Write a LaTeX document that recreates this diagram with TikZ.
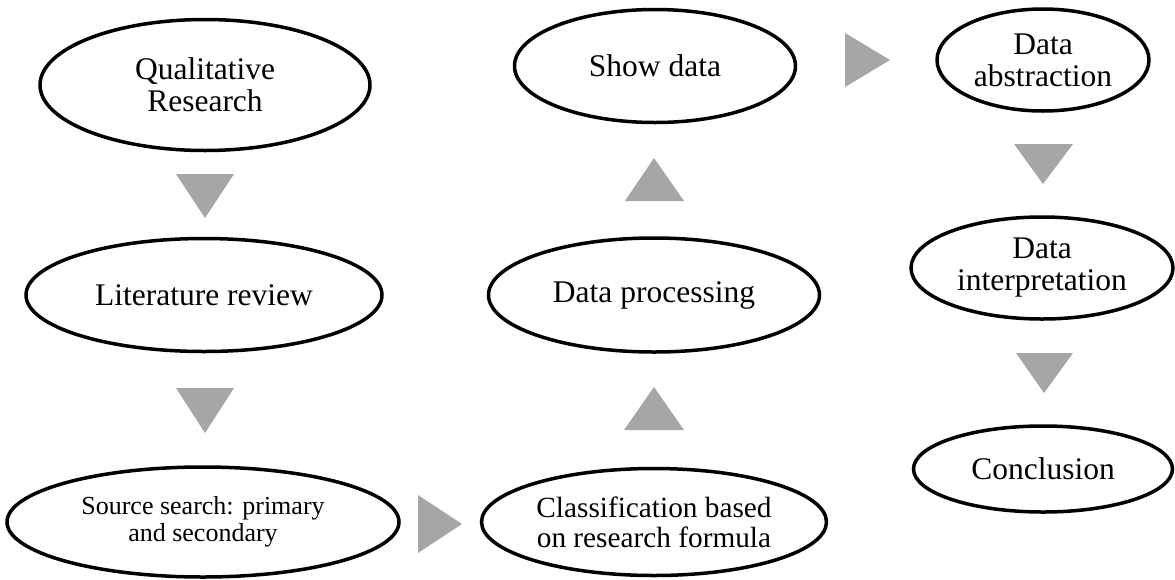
\documentclass[tikz,border=0pt]{standalone}
\usepackage{fontspec}
\setmainfont{Liberation Serif}
\usetikzlibrary{shapes.geometric}
\definecolor{arrowgrey}{RGB}{166,166,166}
\tikzset{
  oval/.style={draw=black, line width=3.5pt, ellipse, inner sep=0pt, align=center,
    font=\fontsize{31.5}{32}\selectfont},
  tri/.style={fill=arrowgrey, draw=none},
}
\begin{document}
\begin{tikzpicture}[x=1pt,y=-1pt]
\useasboundingbox (0,0) rectangle (1175,579);
% column 1
\node[oval, minimum width=330pt, minimum height=131pt] (qr) at (205,85) {Qualitative\\Research};
\node[oval, minimum width=356pt, minimum height=113pt] (lr) at (204,295) {Literature review};
\node[oval, minimum width=392pt, minimum height=110pt, font=\fontsize{26}{27}\selectfont] (ss) at (203,522) {Source search: primary\\and secondary};
% column 2
\node[oval, minimum width=345pt, minimum height=107pt, font=\fontsize{29.3}{30}\selectfont] (cl) at (654,522) {Classification based\\on research formula};
\node[oval, minimum width=331pt, minimum height=114pt] (dp) at (654,295) {Data processing};
\node[oval, minimum width=281pt, minimum height=113pt] (sd) at (655,66) {Show data};
% column 3
\node[oval, minimum width=212pt, minimum height=102pt] (da) at (1043,60) {Data\\abstraction};
\node[oval, minimum width=262pt, minimum height=102pt] (di) at (1042,268) {Data\\interpretation};
\node[oval, minimum width=259pt, minimum height=86pt] (co) at (1043,469) {Conclusion};
% arrows (grey triangles)
\fill[tri] (176,174) -- (234,174) -- (205,218) -- cycle;
\fill[tri] (176,388) -- (234,388) -- (205,433) -- cycle;
\fill[tri] (418,495) -- (418,553) -- (462,524) -- cycle;
\fill[tri] (624,430) -- (684,430) -- (654,387) -- cycle;
\fill[tri] (625,201) -- (684,201) -- (654,158) -- cycle;
\fill[tri] (845,33) -- (845,87) -- (890,60) -- cycle;
\fill[tri] (1014,144) -- (1073,144) -- (1043,184) -- cycle;
\fill[tri] (1016,353) -- (1073,353) -- (1044,393) -- cycle;
\end{tikzpicture}
\end{document}
